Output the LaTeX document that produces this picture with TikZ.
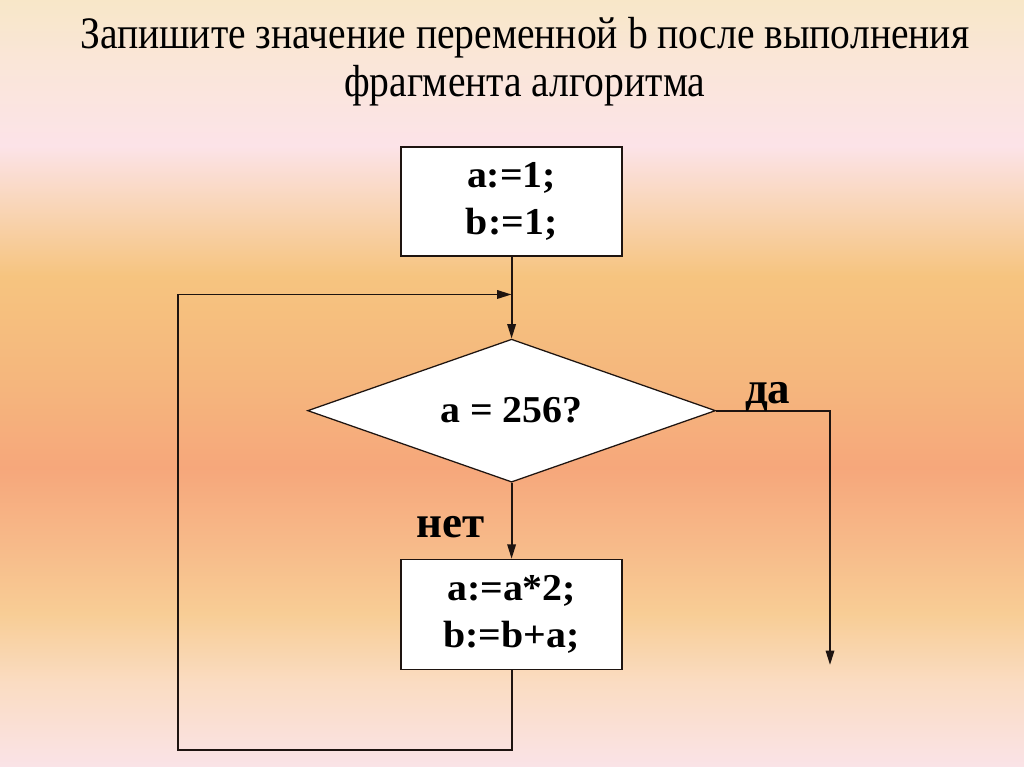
\documentclass[tikz,border=0pt]{standalone}
\usepackage{fontspec}
\setmainfont{Liberation Serif}
\newfontfamily\titlefont[FakeStretch=0.88]{Liberation Serif}
\newfontfamily\boxfont[FakeStretch=1.05]{Liberation Serif}
\usepackage{xcolor}
\usepackage{tikz}
\usetikzlibrary{positioning, shapes.geometric, arrows.meta, calc}

\definecolor{bgpinkbot}{HTML}{FAE3E7}
\definecolor{bglightbot}{HTML}{FADCC2}
\definecolor{bgyellowbot}{HTML}{F8CD95}
\definecolor{bgpeach}{HTML}{F7B888}
\definecolor{bgsalmon}{HTML}{F6A77B}
\definecolor{bgmid}{HTML}{F5B67D}
\definecolor{bgyellowtop}{HTML}{F6C47F}
\definecolor{bgblush}{HTML}{F9D7BD}
\definecolor{bgpinktop}{HTML}{FCE3E8}
\definecolor{bgcreamy}{HTML}{FAE6D8}
\definecolor{bgcream}{HTML}{F8E7C8}
\definecolor{linecol}{HTML}{1E1410}

% background runs over 25bp..75bp of the shading
\pgfdeclareverticalshading{slidebg}{100bp}{
  color(0bp)=(bgpinkbot);
  color(25bp)=(bgpinkbot);
  color(30.5bp)=(bglightbot);
  color(35bp)=(bgyellowbot);
  color(40bp)=(bgpeach);
  color(44.5bp)=(bgsalmon);
  color(50bp)=(bgmid);
  color(57bp)=(bgyellowtop);
  color(62bp)=(bgblush);
  color(65.5bp)=(bgpinktop);
  color(71bp)=(bgcreamy);
  color(75bp)=(bgcream);
  color(100bp)=(bgcream)}

\begin{document}
\begin{tikzpicture}[
			>={Triangle[length=3.6mm, width=2.1mm]},
			% Define styles for the blocks
			stepbox/.style={
				draw=linecol, 
				fill=white, 
				line width=0.9pt, 
				minimum height=2.725cm, 
				minimum width=5.525cm, 
				inner sep=0pt,
				align=center,
				font=\boxfont\bfseries\fontsize{27}{34}\selectfont
			},
			cond/.style={
				diamond, 
				draw=linecol, 
				fill=white, 
				line width=0.9pt, 
				aspect=2.85,
				inner sep=0pt, 
				minimum width=10.2cm,
				minimum height=3.575cm,
				font=\boxfont\bfseries\fontsize{27}{30}\selectfont
			},
			flow/.style={
				->, draw=linecol, line width=1.4pt
			},
			branch_text/.style={
				font=\bfseries\fontsize{32}{32}\selectfont
			},
			title_text/.style={
				font=\titlefont\fontsize{32}{36}\selectfont
			}
			]
			
			\useasboundingbox (0,0) rectangle (25.6,19.175);
			\shade[shading=slidebg] (0,0) rectangle (25.6,19.175);
			
			% --- 1. TITLE ---
			\node[title_text, anchor=base] (title1) at (13.12,17.95) {Запишите значение переменной b после выполнения};
			\node[title_text, anchor=base] (title2) at (13.12,16.75) {фрагмента алгоритма};
			
			% --- 2. INIT BLOCK ---
			\node[stepbox] (init) at (12.79,14.14) {a:=1;\\ b:=1;};
			
			% --- 3. CONDITION ---
			\node[cond, below=2.05cm of init] (check) {a = 256?};
			\draw[flow] (init) -- (check);
			
			% --- 4. LOOP BODY ---
			\node[stepbox, below=1.9cm of check, minimum height=2.75cm] (update) {a:=a*2;\\ b:=b+a;};
			\draw[flow] (check) -- (update);
			\node[branch_text, anchor=base east] (no_text) at ([xshift=-0.55cm, yshift=-1.36cm]check.south) {нет};
			
			% Back edge of the loop
			\coordinate (join) at ($(init.south)!0.463!(check.north)$);
			\coordinate (loop_corner) at (4.45,0.425);
			\draw[flow] (update.south) |- (loop_corner) |- (join);
			
			% --- 5. EXIT ---
			\coordinate (exit_end) at (20.75,2.55);
			\draw[flow] (check.east) -| (exit_end);
			\node[branch_text, anchor=base west] (yes_text) at ([xshift=0.6cm, yshift=0.19cm]check.east) {да};
			
		\end{tikzpicture}
\end{document}
